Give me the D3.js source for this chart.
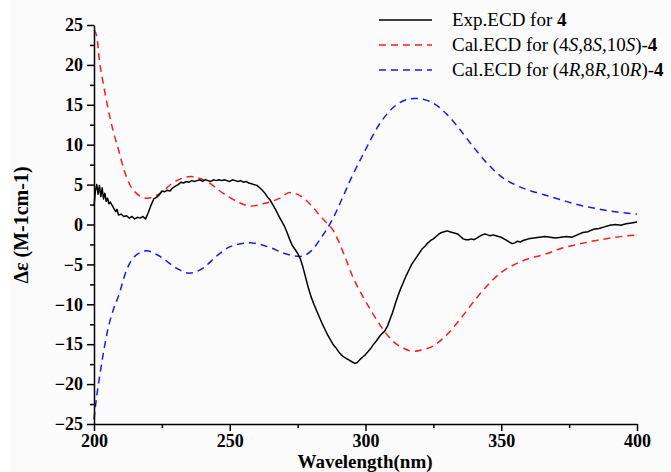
<!DOCTYPE html>
<html><head><meta charset="utf-8">
<script src="https://cdn.jsdelivr.net/npm/d3@7"></script>
<style>body{margin:0;background:#fff}svg{display:block}</style>
</head><body><div id="c"></div>
<script>
// Experimental ECD (black)
const expWl = [200,200.5,201,201.5,202,202.5,203,203.5,204,204.5,205,205.5,206,207,208,208.5,209,210,211,212,213,214,215,216,217,218,219,220,221,222,223,224,225,226,227,228,229,230,231,232,233,234,235,236,237,238,239,240,241,242,243,244,245,246,247,248,249,250,251,252,253,254,255,256,257,258,259,260,261,262,263,264,265,266,267,268,269,270,271,272,273,274,275,276,277,278,279,280,281,282,283,284,285,286,287,288,289,290,291,292,293,294,295,296,297,298,299,300,301,302,303,304,305,306,307,308,309,310,311,312,313,314,315,316,317,318,319,320,321,322,323,324,325,326,327,328,329,330,331,332,333,334,335,336,337,338,339,340,341,342,343,344,345,346,347,348,349,350,351,352,353,354,355,356,357,358,359,360,362,364,366,368,370,372,374,376,378,380,382,384,386,388,390,392,394,396,398,400];
const expVal = [2.3,4.2,5.0,3.8,4.9,3.5,4.6,3.2,3.9,2.9,3.3,2.6,2.8,2.2,1.6,1.9,1.2,1.3,1.0,1.1,0.8,1.0,0.7,0.9,0.8,1.0,0.7,1.5,2.4,3.2,3.4,3.7,4.2,4.1,4.3,4.2,4.6,4.8,5.0,5.3,5.2,5.4,5.3,5.5,5.4,5.5,5.6,5.4,5.6,5.5,5.4,5.6,5.5,5.6,5.5,5.6,5.5,5.4,5.6,5.5,5.4,5.5,5.3,5.4,5.2,5.1,5.0,4.9,4.6,4.3,3.9,3.4,3.0,2.4,1.8,1.1,0.5,-0.1,-0.9,-1.8,-2.6,-3.1,-3.6,-4.3,-5.4,-6.7,-8.0,-9.1,-10.0,-10.8,-11.6,-12.4,-13.1,-13.8,-14.4,-15.0,-15.4,-15.9,-16.3,-16.6,-16.8,-17.0,-17.2,-17.4,-17.3,-16.9,-16.6,-16.3,-15.9,-15.5,-15.0,-14.6,-14.1,-13.7,-13.4,-12.8,-11.9,-11.0,-9.9,-8.9,-8.0,-7.2,-6.4,-5.7,-5.0,-4.5,-4.0,-3.5,-3.0,-2.7,-2.3,-2.0,-1.8,-1.5,-1.2,-1.0,-0.9,-0.8,-0.9,-1.0,-1.1,-1.2,-1.5,-1.8,-1.9,-1.9,-1.8,-1.9,-1.7,-1.5,-1.3,-1.2,-1.3,-1.4,-1.3,-1.4,-1.5,-1.6,-1.8,-2.0,-2.2,-2.4,-2.3,-2.1,-2.2,-2.0,-1.9,-1.8,-1.7,-1.6,-1.5,-1.6,-1.7,-1.6,-1.5,-1.6,-1.3,-1.0,-0.9,-0.6,-0.5,-0.3,-0.1,0.0,-0.1,0.1,0.2,0.3];
// Calculated ECD for (4S,8S,10S)-4 (red)
const calSWl = [200,201,202,203.5,205,207,209,211,214.5,219.4,224.3,229,235.4,241.5,247.6,253.8,257.5,263.6,268.5,272,276,280,284,288,292.4,295,300,306.6,310,314,317.6,321,325,330,335,340,345,350,355,360,365.5,372,378,385,392,400];
const calSVal = [24.4,23.6,20.6,17.5,14.8,11.8,9.4,6.9,4.3,3.3,3.9,5.2,6.0,5.4,3.9,2.7,2.3,2.7,3.3,4.0,3.6,2.4,0.8,-0.7,-4.0,-6.3,-9.6,-13.2,-14.6,-15.5,-15.9,-15.7,-15.2,-13.8,-11.8,-9.6,-7.6,-6.0,-5.0,-4.3,-3.8,-3.0,-2.5,-2.0,-1.6,-1.3];
// Calculated ECD for (4R,8R,10R)-4 (blue)
const calRWl = [200,201,202,203.5,205,207,209,212,215,219.4,224.3,230.5,235,240,245,250,257.5,265,270,276,280,284,288.1,291.2,295,299,305,310,314,318,321,325,330,335,340,345,350,355,360,366,372,378,385,392,400];
const calRVal = [-24.4,-21.5,-19.2,-16.0,-13.3,-10.8,-9.0,-5.7,-4.0,-3.3,-4.0,-5.5,-6.1,-5.5,-4.0,-2.8,-2.3,-2.9,-3.6,-4.0,-3.3,-1.5,0.8,3.1,6.0,8.7,12.5,14.6,15.5,15.8,15.7,15.2,13.8,11.8,9.6,7.6,6.0,5.0,4.3,3.7,3.1,2.5,2.0,1.6,1.3];

const xTicks = [200,250,300,350,400];
const xMinor = [225,275,325,375];
const yTicks = [-25,-20,-15,-10,-5,0,5,10,15,20,25];
const yMinor = [-22.5,-17.5,-12.5,-7.5,-2.5,2.5,7.5,12.5,17.5,22.5];

const W = 671, H = 472;
const svg = d3.select("#c").append("svg").attr("width", W).attr("height", H);
svg.append("rect").attr("x", 11).attr("y", 0).attr("width", W - 11).attr("height", H).attr("fill", "#fbfbfb");

const x = d3.scaleLinear().domain([200, 400]).range([94, 637]);
const y = d3.scaleLinear().domain([-25, 25]).range([424, 25]);
const font = "'Liberation Serif','Times New Roman',serif";

const zip = (a, b) => a.map((v, i) => [v, b[i]]);
const smooth = d3.line().x(d => x(d[0])).y(d => y(d[1])).curve(d3.curveMonotoneX);
const raw = d3.line().x(d => x(d[0])).y(d => y(d[1]));

const plot = svg.append("g");
plot.append("path").datum(zip(calSWl, calSVal)).attr("d", smooth)
  .attr("fill", "none").attr("stroke", "#ff1a1a").attr("stroke-width", 1.5).attr("stroke-dasharray", "7,5");
plot.append("path").datum(zip(calRWl, calRVal)).attr("d", smooth)
  .attr("fill", "none").attr("stroke", "#1a1ae6").attr("stroke-width", 1.5).attr("stroke-dasharray", "7,5");
plot.append("path").datum(zip(expWl, expVal)).attr("d", raw)
  .attr("fill", "none").attr("stroke", "#000").attr("stroke-width", 1.5).attr("stroke-linejoin", "round");

// axes
function styleAxis(g) {
  g.attr("font-family", font);
  g.selectAll("path,line").attr("stroke", "#000").attr("stroke-width", 1.5);
  g.selectAll("text").attr("font-family", font).attr("font-weight", "bold").attr("font-size", 18).attr("fill", "#000");
}
const gx = svg.append("g").attr("transform", "translate(0,424)")
  .call(d3.axisBottom(x).tickValues(xTicks).tickFormat(d3.format("d")).tickSize(7).tickSizeOuter(0).tickPadding(3));
styleAxis(gx);
const gxm = svg.append("g").attr("transform", "translate(0,424)")
  .call(d3.axisBottom(x).tickValues(xMinor).tickFormat("").tickSize(4).tickSizeOuter(0));
styleAxis(gxm); gxm.select(".domain").remove();

const gy = svg.append("g").attr("transform", "translate(94,0)")
  .call(d3.axisLeft(y).tickValues(yTicks).tickFormat(d3.format("d")).tickSize(7).tickSizeOuter(0).tickPadding(4));
styleAxis(gy);
const gym = svg.append("g").attr("transform", "translate(94,0)")
  .call(d3.axisLeft(y).tickValues(yMinor).tickFormat("").tickSize(4).tickSizeOuter(0));
styleAxis(gym); gym.select(".domain").remove();

svg.append("text").attr("x", 365).attr("y", 468).attr("text-anchor", "middle")
  .attr("font-family", font).attr("font-weight", "bold").attr("font-size", 19).text("Wavelength(nm)");
svg.append("text").attr("transform", "translate(28,225) rotate(-90)").attr("text-anchor", "middle")
  .attr("font-family", font).attr("font-weight", "bold").attr("font-size", 20).text("Δε (M-1cm-1)");

// legend
const legend = [
  {c: "#000", dash: null, parts: [["Exp.ECD for ", ""], ["4", "b"]]},
  {c: "#ff1a1a", dash: "7,5", parts: [["Cal.ECD for (4", ""], ["S", "i"], [",8", ""], ["S", "i"], [",10", ""], ["S", "i"], [")-", ""], ["4", "b"]]},
  {c: "#1a1ae6", dash: "7,5", parts: [["Cal.ECD for (4", ""], ["R", "i"], [",8", ""], ["R", "i"], [",10", ""], ["R", "i"], [")-", ""], ["4", "b"]]}
];
const rowsY = [20, 45, 70];
legend.forEach((L, i) => {
  const yy = rowsY[i];
  svg.append("line").attr("x1", 379).attr("x2", 432).attr("y1", yy).attr("y2", yy)
    .attr("stroke", L.c).attr("stroke-width", 1.5).attr("stroke-dasharray", L.dash);
  const t = svg.append("text").attr("x", 452).attr("y", yy + 6)
    .attr("font-family", font).attr("font-size", 19).attr("fill", "#000");
  L.parts.forEach(p => {
    const s = t.append("tspan").text(p[0]);
    if (p[1] === "b") s.attr("font-weight", "bold");
    if (p[1] === "i") s.attr("font-style", "italic");
  });
});
</script></body></html>
